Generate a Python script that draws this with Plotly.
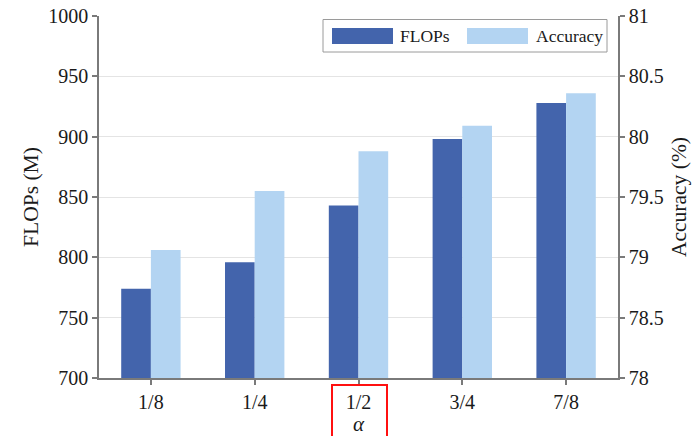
import plotly.graph_objects as go

# Width multiplier alpha and measured results
alpha_labels = ["1/8", "1/4", "1/2", "3/4", "7/8"]
flops_m = [774, 796, 843, 898, 928]
accuracy_pct = [79.06, 79.55, 79.88, 80.09, 80.36]

dark_blue = "#4364AC"
light_blue = "#B3D4F2"
axis_gray = "#7a7a7a"
serif = "Liberation Serif, Times New Roman, serif"

bar_w = 0.286

fig = go.Figure()
fig.add_trace(go.Bar(
    x=alpha_labels, y=flops_m, name="FLOPs",
    marker=dict(color=dark_blue, line=dict(width=0)),
    width=bar_w, offset=-bar_w, yaxis="y",
))
fig.add_trace(go.Bar(
    x=alpha_labels, y=accuracy_pct, name="Accuracy",
    marker=dict(color=light_blue, line=dict(width=0)),
    width=bar_w, offset=0, yaxis="y2",
))

tick_font = dict(family=serif, size=20, color="#1a1a1a")
title_font = dict(family=serif, size=21.5, color="#1a1a1a")

fig.update_layout(
    width=695, height=436,
    margin=dict(l=99, r=77, t=16, b=58),
    paper_bgcolor="white", plot_bgcolor="white",
    showlegend=False,
    xaxis=dict(
        type="category", automargin=False,
        showline=True, linecolor=axis_gray, linewidth=1.5,
        ticks="outside", ticklen=5, tickcolor=axis_gray, tickwidth=1.5,
        tickfont=tick_font, showgrid=False,
        title=dict(text="<i>α</i>", font=dict(family=serif, size=21, color="#1a1a1a"), standoff=3),
    ),
    yaxis=dict(
        range=[700, 1000], dtick=50, automargin=False,
        showline=True, linecolor=axis_gray, linewidth=1.5,
        ticks="outside", ticklen=5, tickcolor=axis_gray, tickwidth=1.5,
        tickfont=tick_font,
        showgrid=True, gridcolor="#e4e4e4", gridwidth=1,
        zeroline=False,
        title=dict(text="FLOPs (M)", font=title_font, standoff=4),
    ),
    yaxis2=dict(
        range=[78, 81], dtick=0.5, automargin=False,
        overlaying="y", side="right",
        showline=True, linecolor=axis_gray, linewidth=1.5,
        ticks="outside", ticklen=5, tickcolor=axis_gray, tickwidth=1.5,
        tickfont=tick_font, showgrid=False, zeroline=False,
        title=dict(text="Accuracy (%)", font=title_font, standoff=8),
    ),
)

# Legend box with wide swatches
x0p, x1p = 99.0, 618.0
y0p, y1p = 378.0, 16.0
def px_x(v):
    return (v - x0p) / (x1p - x0p)
def px_y(v):
    return (y0p - v) / (y0p - y1p)

shapes = [
    dict(type="rect", xref="paper", yref="paper",
         x0=px_x(323), x1=px_x(607), y0=px_y(52), y1=px_y(19.5),
         line=dict(color="#9a9a9a", width=1), fillcolor="white"),
    dict(type="rect", xref="paper", yref="paper",
         x0=px_x(332), x1=px_x(393), y0=px_y(44), y1=px_y(28),
         line=dict(width=0), fillcolor=dark_blue),
    dict(type="rect", xref="paper", yref="paper",
         x0=px_x(467), x1=px_x(528), y0=px_y(44), y1=px_y(28),
         line=dict(width=0), fillcolor=light_blue),
    # highlight around the chosen alpha
    dict(type="rect", xref="paper", yref="paper",
         x0=px_x(332), x1=px_x(387), y0=px_y(385), y1=px_y(445),
         line=dict(color="#ff1010", width=2), fillcolor="rgba(0,0,0,0)"),
]
annotations = [
    dict(text="FLOPs", xref="paper", yref="paper", x=px_x(398), y=px_y(36),
         xanchor="left", yanchor="middle", showarrow=False,
         font=dict(family=serif, size=17.5, color="#1a1a1a")),
    dict(text="Accuracy", xref="paper", yref="paper", x=px_x(534), y=px_y(36),
         xanchor="left", yanchor="middle", showarrow=False,
         font=dict(family=serif, size=17.5, color="#1a1a1a")),
]
fig.update_layout(shapes=shapes, annotations=annotations)

fig.write_html("out.html")
